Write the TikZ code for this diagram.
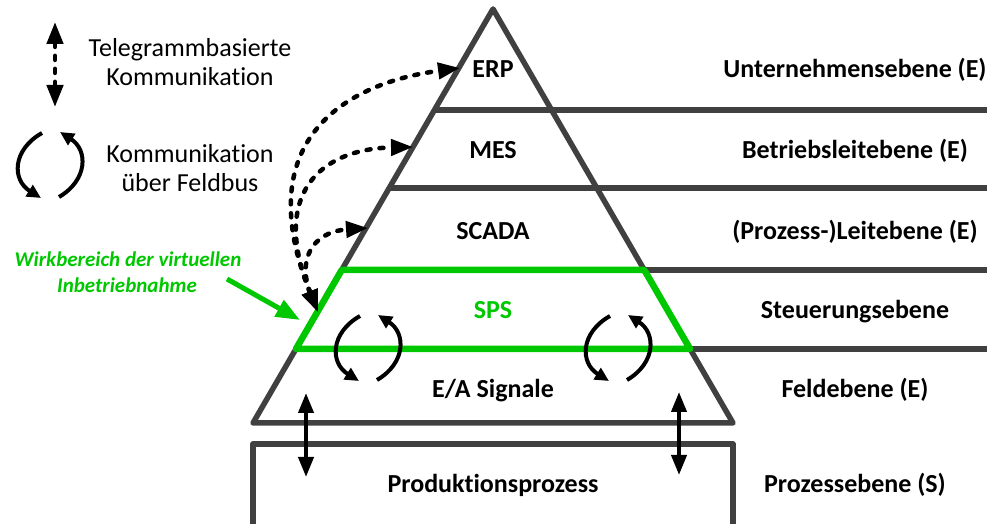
\documentclass[tikz,border=0pt]{standalone}
\usepackage{fontspec}
\setmainfont{Carlito}[Ligatures={NoCommon}]
\usetikzlibrary{arrows.meta}
\definecolor{levelgray}{RGB}{64,64,64}
\definecolor{vibgreen}{RGB}{0,200,0}

\begin{document}
\begin{tikzpicture}[x=1pt,y=1pt,
  levelline/.style={draw=levelgray, line width=5.5pt, line join=round},
  scopeline/.style={draw=vibgreen, line width=6.5pt, line join=round},
  levellabel/.style={font=\fontsize{26}{28}\selectfont\bfseries, anchor=base, inner sep=0pt},
  legendtext/.style={font=\fontsize{26}{29}\selectfont, anchor=base, inner sep=0pt},
  greentext/.style={font=\fontsize{21}{27}\selectfont\bfseries\itshape, text=vibgreen, anchor=base, inner sep=0pt},
  telegram/.style={line width=4.5pt, line cap=round, dash pattern=on 4pt off 9pt,
    >={Triangle[length=22pt,width=16pt]}, <->},
  iolink/.style={line width=4pt, >={Triangle[length=20pt,width=15pt]}, <->},
  busarrow/.style={line width=4pt, -{Triangle[length=14pt,width=13pt]}},
  buscycle/.pic={
    \draw[busarrow] (-8,32) .. controls (-38,15) and (-38,-15) .. (-9,-33);
    \draw[busarrow] (9,-32) .. controls (38,-15) and (38,15) .. (10,33);
  }]
\useasboundingbox (0,0) rectangle (987,524);
\clip (0,0) rectangle (987,524);

% pyramid corners
\coordinate (apex) at (493,515);
\coordinate (baseL) at (253,101);
\coordinate (baseR) at (733,101);

% pyramid outline and level separators
\draw[levelline] (baseL) -- (apex) -- (baseR) -- cycle;
\draw[levelline] (434.4,414) -- (995,414);
\draw[levelline] (389.2,336) -- (995,336);
\draw[levelline] (644.3,254) -- (995,254);
\draw[levelline] (690.1,175) -- (995,175);

% production process box
\draw[levelline] (253,-20) -- (253,80) -- (733,80) -- (733,-20);

% scope of virtual commissioning (PLC level)
\draw[scopeline] (341.7,254) -- (644.3,254) -- (690.1,175) -- (295.9,175) -- cycle;

% level names inside the pyramid
\node[levellabel] (erp) at (493,446) {ERP};
\node[levellabel] (mes) at (493,365) {MES};
\node[levellabel] (scada) at (493,284) {SCADA};
\node[levellabel, text=vibgreen] (sps) at (493,205) {SPS};
\node[levellabel] (io) at (493,126) {E/A Signale};
\node[levellabel] (proc) at (493,31) {Produktionsprozess};

% level names on the right
\node[levellabel] (lvl1) at (855,446) {Unternehmensebene (E)};
\node[levellabel] (lvl2) at (855,365) {Betriebsleitebene (E)};
\node[levellabel] (lvl3) at (855,284) {(Prozess-)Leitebene (E)};
\node[levellabel] (lvl4) at (855,205) {Steuerungsebene};
\node[levellabel] (lvl5) at (855,126) {Feldebene (E)};
\node[levellabel] (lvl6) at (855,31) {Prozessebene (S)};

% legend
\coordinate (legTop) at (55,502);
\coordinate (legBot) at (55,417);
\draw[telegram] (legTop) -- (legBot);
\node[legendtext] (leg1a) at (190,467) {Telegrammbasierte};
\node[legendtext] (leg1b) at (190,438) {Kommunikation};
\pic at (50,359) {buscycle};
\node[legendtext] (leg2a) at (190,361) {Kommunikation};
\node[legendtext] (leg2b) at (190,332) {über Feldbus};

% annotation of the commissioning scope
\node[greentext] (scopeA) at (128,257) {Wirkbereich der virtuellen};
\node[greentext] (scopeB) at (127,231) {Inbetriebnahme};
\coordinate (scopeTail) at (227,245);
\coordinate (scopeTip) at (300,204);
\draw[vibgreen, line width=5pt, -{Triangle[length=24pt,width=18pt]}] (scopeTail) -- (scopeTip);

% telegram based communication from the PLC level upwards
\coordinate (plcPort) at (318,212);
\coordinate (erpPort) at (460,456);
\coordinate (mesPort) at (413,377);
\coordinate (scadaPort) at (368,296);
\draw[telegram] (plcPort) .. controls (250,380) and (340,440) .. (erpPort);
\draw[telegram] (plcPort) .. controls (270,330) and (320,375) .. (mesPort);
\draw[telegram] (plcPort) .. controls (298,261.5) and (310,292) .. (scadaPort);

% fieldbus communication
\pic at (368,176) {buscycle};
\pic at (618,176) {buscycle};

% I/O signals to the process
\coordinate (ioL1) at (306,131);
\coordinate (ioL2) at (306,47);
\coordinate (ioR1) at (679,132);
\coordinate (ioR2) at (679,49);
\draw[iolink] (ioL1) -- (ioL2);
\draw[iolink] (ioR1) -- (ioR2);
\end{tikzpicture}
\end{document}
